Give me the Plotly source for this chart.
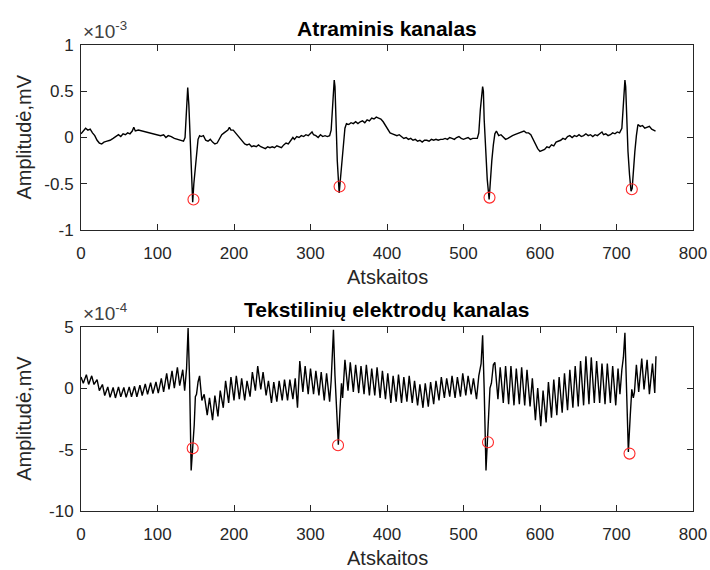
import plotly.graph_objects as go

# ---- Reference electrode channel (amplitude in units of 1e-3 mV) ----
ref_x = [0, 3, 6, 9, 12, 15, 18, 21, 24, 27, 30, 34, 38, 42, 46, 49, 52, 55, 58, 61,
         64, 67, 69, 71, 75, 80, 85, 90, 95, 100, 104, 108, 111, 114, 118, 122, 126, 130, 134, 136,
         137.5, 139.5, 141, 143, 145, 146, 147.5, 150, 153, 155, 157, 160, 163, 166, 169, 172, 175, 178, 181, 184,
         187, 190, 192, 194, 196, 199, 202, 205, 208, 211, 214, 217, 220, 223, 226, 229, 232, 235, 238, 241,
         244, 247, 250, 253, 256, 259, 262, 265, 268, 271, 274, 277, 279, 282, 285, 288, 291, 294, 297, 300,
         302, 304, 307, 310, 313, 316, 319, 322, 325, 327, 329, 331, 332, 333, 335, 337.5, 339, 341, 343, 345,
         347, 350, 353, 356, 359, 362, 365, 368, 371, 374, 377, 380, 383, 386, 389, 392, 395, 398, 401, 404,
         407, 410, 413, 416, 419, 422, 425, 428, 431, 434, 437, 440, 443, 446, 449, 452, 455, 458, 461, 464,
         467, 470, 473, 476, 479, 482, 485, 488, 491, 494, 497, 500, 503, 506, 509, 512, 515, 518, 520, 522,
         525, 526, 527, 529, 531, 533.5, 535, 537, 539, 541, 543, 546, 549, 552, 555, 558, 561, 564, 567, 570,
         573, 576, 579, 582, 585, 588, 591, 594, 597, 600, 603, 606, 609, 612, 615, 618, 621, 624, 627, 630,
         633, 636, 639, 642, 645, 648, 651, 654, 657, 660, 663, 666, 669, 672, 675, 678, 681, 683, 686, 689,
         692, 695, 698, 701, 704, 707, 709, 711, 712, 713, 715, 717, 719, 720.5, 722, 724, 726, 728, 731, 734,
         737, 740, 743, 746, 749, 751]
ref_y = [0.04, 0.07, 0.10, 0.08, 0.09, 0.05, 0.02, -0.03, -0.06, -0.07, -0.05, -0.04, -0.03, -0.01, 0.01, 0.03, 0.01, 0.04, 0.03, 0.05,
         0.04, 0.07, 0.11, 0.07, 0.08, 0.07, 0.06, 0.05, 0.04, 0.03, 0.02, 0.03, 0.00, 0.02, 0.01, -0.01, -0.02, -0.03, -0.04, 0.00,
         0.30, 0.54, 0.35, -0.15, -0.55, -0.70, -0.50, -0.25, -0.02, 0.02, 0.01, 0.02, -0.03, -0.04, -0.02, -0.05, -0.07, -0.06, -0.02, 0.03,
         0.05, 0.07, 0.08, 0.11, 0.08, 0.08, 0.05, 0.03, -0.01, -0.04, -0.07, -0.08, -0.07, -0.10, -0.09, -0.10, -0.08, -0.10, -0.11, -0.12,
         -0.10, -0.11, -0.10, -0.11, -0.09, -0.10, -0.11, -0.08, -0.06, -0.07, -0.03, 0.00, -0.02, 0.01, 0.00, 0.02, 0.01, 0.03, 0.02, 0.05,
         0.06, 0.03, 0.02, 0.00, 0.03, 0.01, 0.02, 0.01, 0.02, 0.08, 0.40, 0.62, 0.55, 0.20, -0.25, -0.60, -0.45, -0.25, -0.05, 0.10,
         0.15, 0.14, 0.16, 0.15, 0.17, 0.15, 0.17, 0.18, 0.16, 0.19, 0.18, 0.21, 0.20, 0.22, 0.21, 0.20, 0.17, 0.13, 0.09, 0.05,
         0.04, 0.03, 0.02, 0.03, 0.01, -0.01, 0.00, -0.02, -0.01, -0.03, -0.02, -0.04, -0.03, -0.05, -0.03, -0.03, -0.04, -0.02, -0.03, -0.02,
         -0.03, -0.02, -0.02, -0.01, -0.02, 0.00, -0.01, -0.02, 0.00, 0.01, -0.01, -0.02, -0.01, 0.00, -0.02, -0.01, -0.01, -0.01, 0.05, 0.30,
         0.55, 0.50, 0.20, -0.15, -0.45, -0.67, -0.45, -0.25, -0.08, 0.04, 0.07, 0.02, 0.03, 0.00, -0.02, -0.01, 0.01, 0.02, 0.03, 0.04,
         0.05, 0.06, 0.07, 0.05, 0.05, 0.03, -0.02, -0.07, -0.12, -0.15, -0.14, -0.13, -0.10, -0.11, -0.08, -0.09, -0.05, -0.04, -0.03, -0.01,
         -0.02, 0.01, 0.02, 0.00, 0.02, 0.01, 0.03, 0.01, 0.02, 0.04, 0.02, 0.03, 0.01, 0.03, 0.02, 0.04, 0.06, 0.03, 0.04, 0.02,
         0.03, 0.05, 0.04, 0.06, 0.05, 0.10, 0.40, 0.62, 0.55, 0.25, -0.15, -0.40, -0.58, -0.55, -0.35, -0.15, 0.02, 0.14, 0.12, 0.13,
         0.10, 0.11, 0.12, 0.09, 0.08, 0.07]

# Detected S-wave points on the reference channel
ref_mark_x = [147, 338, 534, 720]
ref_mark_y = [-0.67, -0.53, -0.65, -0.56]

# ---- Textile electrode channel (amplitude in units of 1e-4 mV) ----
tex_x = [0, 3, 7, 10, 14, 17, 21, 24, 28, 31, 35, 38, 42, 45, 49, 52, 56, 59, 63, 66,
         70, 73, 77, 80, 84, 87, 91, 94, 98, 101, 105, 108, 112, 115, 119, 122, 126, 129, 133, 135.5,
         138, 140, 142, 144, 148, 149.5, 151, 153, 155, 158, 161, 165, 168, 172, 175, 179, 182, 186, 189, 193,
         196, 200, 203, 207, 210, 214, 217, 221, 224, 228, 231, 235, 238, 242, 245, 249, 252, 256, 259, 263,
         266, 270, 273, 277, 280, 283, 286, 290, 293, 297, 300, 304, 307, 311, 314, 318, 321, 325, 327, 328.5,
         330, 332, 336.4, 338.5, 340.5, 342, 345, 349, 352, 356, 359, 363, 366, 370, 373, 377, 380, 384, 387, 391,
         394, 398, 401, 405, 408, 412, 415, 419, 422, 426, 429, 433, 436, 440, 443, 447, 450, 454, 457, 461,
         464, 468, 471, 475, 478, 482, 485, 489, 492, 496, 499, 503, 506, 510, 513, 517, 520, 523, 525, 527,
         529.4, 533, 534.6, 536.5, 539, 541, 545, 548, 552, 555, 559, 562, 566, 569, 573, 576, 580, 583, 587, 590,
         594, 597, 601, 604, 608, 611, 615, 618, 622, 625, 629, 632, 636, 639, 643, 646, 650, 653, 657, 660,
         664, 667, 671, 674, 678, 681, 685, 688, 692, 695, 699, 702, 704.5, 707, 709, 711, 713, 715.5, 718, 720,
         722, 723.5, 726, 729, 733, 736, 740, 743, 747, 750, 751.6]
tex_y = [0.9, 0.4, 1.1, 0.3, 1.0, 0.3, 0.7, -0.2, 0.3, -0.6, 0.1, -0.75, 0.05, -0.8, 0.1, -0.7, 0.05, -0.75, 0.1, -0.7,
         0.15, -0.7, 0.25, -0.6, 0.35, -0.5, 0.45, -0.45, 0.5, -0.4, 0.8, -0.3, 1.2, -0.1, 1.4, 0.0, 1.7, 0.2, 1.5, -0.2,
         1.6, 4.9, 0.5, -6.7, -3.0, -0.7, -0.5, 0.5, 1.0, -1.0, -0.5, -2.2, -0.8, -2.6, -0.6, -2.3, -0.2, -1.6, 0.6, -1.2,
         0.9, -1.0, 1.0, -0.9, 0.8, -1.0, 0.6, -0.7, 1.3, -0.2, 1.8, -0.1, 1.3, -0.6, 0.6, -1.2, 0.5, -1.1, 0.6, -1.0,
         0.7, -1.0, 0.7, -0.9, 0.8, -1.6, 2.2, -0.3, 1.8, -0.5, 1.6, -0.5, 1.4, -0.6, 1.3, -1.0, 1.2, -1.1, 0.6, 2.5,
         4.75, 1.0, -4.6, -1.8, 0.4, -0.8, 2.3, -0.2, 2.1, -0.3, 1.9, -0.4, 1.8, -0.5, 1.9, -0.6, 1.6, -0.6, 1.7, -0.8,
         1.4, -0.9, 1.2, -1.2, 1.0, -1.1, 1.1, -1.2, 0.9, -1.1, 1.0, -1.2, 0.6, -1.4, 0.3, -1.6, 0.4, -1.5, 0.5, -1.3,
         0.6, -1.0, 0.9, -0.8, 0.8, -0.7, 1.0, -0.8, 0.9, -0.7, 1.2, -0.6, 1.0, -0.5, 0.8, -0.9, 1.0, 2.0, 4.3, 0.0,
         -6.7, -2.0, 0.0, 0.4, 1.9, 2.1, -0.9, 1.7, -1.2, 1.8, -1.3, 1.8, -1.4, 1.6, -1.3, 1.7, -1.4, 1.5, -1.5, 0.8,
         -2.6, 0.0, -3.1, -0.2, -2.8, 0.5, -2.4, 0.7, -2.2, 0.9, -2.0, 1.2, -1.8, 1.5, -1.6, 1.8, -1.5, 2.2, -1.4, 2.6,
         -1.3, 2.5, -1.2, 2.2, -1.2, 2.0, -1.3, 2.0, -1.2, 1.8, -1.4, 1.6, -0.5, 1.5, 2.5, 4.5, 0.5, -5.2, -2.2, -0.1,
         -0.8, -0.3, 1.9, -0.3, 2.4, -0.1, 2.3, -0.5, 2.0, -0.4, 2.6]

# Detected S-wave points on the textile channel
tex_mark_x = [146, 336, 532, 717]
tex_mark_y = [-4.9, -4.65, -4.4, -5.33]

# Axis ticks
x_ticks = [0, 100, 200, 300, 400, 500, 600, 700, 800]
ref_y_ticks = [-1, -0.5, 0, 0.5, 1]
tex_y_ticks = [-10, -5, 0, 5]

W, H = 710, 570
FONT = "Liberation Sans, Arial, Helvetica, sans-serif"
AX_COLOR = "#262626"


def px(v):
    return v / W


def py(v):
    return 1 - v / H


fig = go.Figure()

line_style = dict(color="black", width=1.4)
mark_style = dict(symbol="circle-open", size=11, color="#ff2828", line=dict(width=1.1))

fig.add_trace(go.Scatter(x=ref_x, y=ref_y, mode="lines", line=line_style,
                         xaxis="x", yaxis="y", showlegend=False, hoverinfo="skip"))
fig.add_trace(go.Scatter(x=ref_mark_x, y=ref_mark_y, mode="markers", marker=mark_style,
                         xaxis="x", yaxis="y", showlegend=False))
fig.add_trace(go.Scatter(x=tex_x, y=tex_y, mode="lines", line=line_style,
                         xaxis="x2", yaxis="y2", showlegend=False, hoverinfo="skip"))
fig.add_trace(go.Scatter(x=tex_mark_x, y=tex_mark_y, mode="markers", marker=mark_style,
                         xaxis="x2", yaxis="y2", showlegend=False))

# Axes box geometry (pixels)
left, right = 81, 693
top1, bot1 = 45, 230
top2, bot2 = 326.7, 511

common_axis = dict(
    showline=True, linecolor=AX_COLOR, linewidth=1, mirror="ticks",
    ticks="inside", ticklen=6, tickcolor=AX_COLOR, tickwidth=1,
    showgrid=False, zeroline=False, automargin=False,
    tickfont=dict(family=FONT, size=17, color=AX_COLOR),
)

fig.update_layout(
    width=W, height=H,
    margin=dict(l=0, r=0, t=0, b=0, autoexpand=False),
    paper_bgcolor="white", plot_bgcolor="white",
    xaxis=dict(common_axis, domain=[px(left), px(right)], range=[0, 800],
               tickvals=x_ticks, anchor="y", ticklabelstandoff=8),
    yaxis=dict(common_axis, domain=[py(bot1), py(top1)], range=[-1, 1],
               tickvals=ref_y_ticks, ticktext=["-1", "-0.5", "0", "0.5", "1"],
               anchor="x", ticklabelstandoff=3),
    xaxis2=dict(common_axis, domain=[px(left), px(right)], range=[0, 800],
                tickvals=x_ticks, anchor="y2", ticklabelstandoff=8),
    yaxis2=dict(common_axis, domain=[py(bot2), py(top2)], range=[-10, 5],
                tickvals=tex_y_ticks, ticktext=["-10", "-5", "0", "5"],
                anchor="x2", ticklabelstandoff=3),
)

annots = []
label_font = dict(family=FONT, size=20, color=AX_COLOR)
title_font = dict(family=FONT, size=21, color="black")
for (t, b, title) in [(top1, bot1, "<b>Atraminis kanalas</b>"),
                      (top2, bot2, "<b>Tekstilinių elektrodų kanalas</b>")]:
    mid_x = (left + right) / 2
    annots.append(dict(text=title, x=px(mid_x), y=py(t - 17), xref="paper", yref="paper",
                       xanchor="center", yanchor="middle", showarrow=False, font=title_font))
    annots.append(dict(text="Atskaitos", x=px(mid_x), y=py(b + 47), xref="paper", yref="paper",
                       xanchor="center", yanchor="middle", showarrow=False, font=label_font))
    annots.append(dict(text="Amplitudė,mV", x=px(24), y=py((t + b) / 2), xref="paper", yref="paper",
                       xanchor="center", yanchor="middle", textangle=-90, showarrow=False,
                       font=label_font))

for (t, sup) in [(top1, "-3"), (top2, "-4")]:
    annots.append(dict(text="×10<sup>" + sup + "</sup>", x=px(left), y=py(t - 1), xref="paper",
                       yref="paper", xanchor="left", yanchor="bottom", showarrow=False,
                       font=dict(family=FONT, size=19, color="#404040")))
fig.update_layout(annotations=annots)

fig.write_html("out.html")
